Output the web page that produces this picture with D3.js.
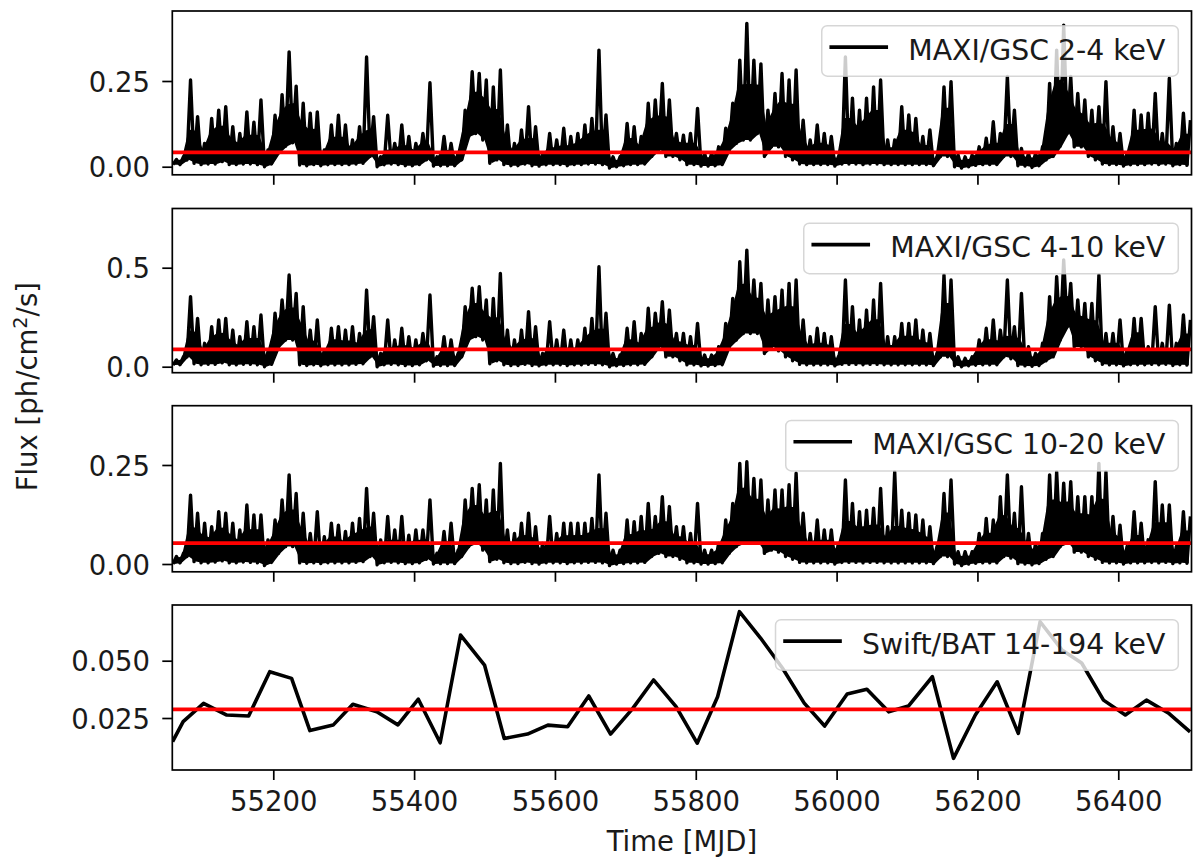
<!DOCTYPE html>
<html><head><meta charset="utf-8">
<script src="https://cdn.jsdelivr.net/npm/d3@7"></script>
<style>
html,body{margin:0;padding:0;background:#fff;}
svg{display:block;font-family:"DejaVu Sans",sans-serif;}
</style></head><body>
<svg id="chart" width="1193" height="860"></svg>
<script>
// ---- DATA ----
// MAXI/GSC light curves: 10-day bins, upper (hi) and lower (lo) envelope of the daily points
const maxiDays = [
55060,55070,55080,55090,55100,55110,55120,55130,55140,55150,
55160,55170,55180,55190,55200,55210,55220,55230,55240,55250,
55260,55270,55280,55290,55300,55310,55320,55330,55340,55350,
55360,55370,55380,55390,55400,55410,55420,55430,55440,55450,
55460,55470,55480,55490,55500,55510,55520,55530,55540,55550,
55560,55570,55580,55590,55600,55610,55620,55630,55640,55650,
55660,55670,55680,55690,55700,55710,55720,55730,55740,55750,
55760,55770,55780,55790,55800,55810,55820,55830,55840,55850,
55860,55870,55880,55890,55900,55910,55920,55930,55940,55950,
55960,55970,55980,55990,56000,56010,56020,56030,56040,56050,
56060,56070,56080,56090,56100,56110,56120,56130,56140,56150,
56160,56170,56180,56190,56200,56210,56220,56230,56240,56250,
56260,56270,56280,56290,56300,56310,56320,56330,56340,56350,
56360,56370,56380,56390,56400,56410,56420,56430,56440,56450,
56460,56470,56480,56490,56500];

const maxi2to4Hi = [
0.021,0.029,0.253,0.146,0.068,0.141,0.165,0.175,0.117,0.097,
0.160,0.130,0.195,0.049,0.150,0.210,0.335,0.235,0.185,0.156,
0.160,0.049,0.122,0.150,0.122,0.078,0.117,0.320,0.146,0.029,
0.150,0.068,0.122,0.088,0.068,0.097,0.245,0.029,0.088,0.068,
0.039,0.165,0.277,0.272,0.253,0.233,0.282,0.122,0.068,0.107,
0.175,0.117,0.039,0.097,0.078,0.112,0.088,0.097,0.122,0.141,
0.340,0.151,0.029,0.029,0.126,0.117,0.088,0.185,0.195,0.243,
0.195,0.097,0.092,0.097,0.170,0.039,0.039,0.058,0.112,0.185,
0.311,0.418,0.311,0.300,0.165,0.214,0.272,0.253,0.282,0.136,
0.078,0.122,0.097,0.088,0.029,0.320,0.200,0.165,0.200,0.233,
0.253,0.078,0.078,0.175,0.151,0.141,0.088,0.107,0.029,0.233,
0.248,0.034,0.029,0.034,0.058,0.083,0.131,0.097,0.263,0.165,
0.053,0.039,0.039,0.058,0.243,0.340,0.413,0.263,0.214,0.195,
0.165,0.175,0.248,0.117,0.097,0.039,0.165,0.151,0.156,0.214,
0.097,0.258,0.068,0.156,0.136];
const maxi2to4Lo = [
0.006,0.006,0.020,0.010,0.006,0.008,0.008,0.015,0.006,0.006,
0.008,0.008,0.006,0.000,0.008,0.040,0.060,0.070,0.005,0.003,
0.006,0.003,0.006,0.006,0.006,0.006,0.008,0.010,0.030,0.000,
0.006,0.008,0.006,0.003,0.003,0.006,0.020,0.002,0.003,0.003,
0.003,0.020,0.088,0.097,0.078,0.010,0.020,0.006,0.003,0.003,
0.008,0.003,0.002,0.006,0.006,0.006,0.003,0.006,0.006,0.008,
0.008,0.006,-0.004,0.000,0.003,0.006,0.006,0.008,0.030,0.049,
0.030,0.030,0.020,0.006,0.006,0.002,0.002,0.003,0.006,0.049,
0.068,0.078,0.078,0.097,0.030,0.058,0.058,0.030,0.020,0.008,
0.006,0.006,0.006,0.006,0.002,0.008,0.008,0.008,0.006,0.008,
0.008,0.006,0.006,0.006,0.006,0.006,0.006,0.006,0.003,0.030,
0.030,0.000,-0.004,0.000,0.004,0.006,0.006,0.006,0.030,0.030,
0.003,0.002,-0.002,0.003,0.020,0.030,0.060,0.097,0.058,0.058,
0.030,0.020,0.008,0.006,0.006,0.002,0.006,0.006,0.006,0.008,
0.006,0.008,0.003,0.006,0.004];

const maxi4to10Hi = [
0.034,0.050,0.354,0.244,0.118,0.202,0.236,0.244,0.185,0.152,
0.227,0.202,0.261,0.076,0.270,0.337,0.463,0.370,0.303,0.185,
0.236,0.084,0.194,0.202,0.185,0.202,0.168,0.387,0.253,0.067,
0.236,0.135,0.194,0.152,0.135,0.168,0.362,0.050,0.152,0.135,
0.067,0.303,0.396,0.404,0.337,0.345,0.471,0.185,0.135,0.185,
0.278,0.202,0.067,0.227,0.135,0.185,0.135,0.135,0.194,0.244,
0.505,0.270,0.067,0.059,0.194,0.227,0.168,0.295,0.270,0.328,
0.286,0.168,0.168,0.152,0.219,0.059,0.059,0.101,0.219,0.345,
0.530,0.589,0.438,0.421,0.337,0.354,0.387,0.421,0.438,0.236,
0.152,0.194,0.168,0.152,0.050,0.438,0.303,0.236,0.286,0.337,
0.421,0.152,0.152,0.219,0.219,0.236,0.185,0.168,0.067,0.463,
0.438,0.050,0.042,0.050,0.135,0.194,0.236,0.185,0.438,0.202,
0.370,0.101,0.067,0.118,0.354,0.455,0.539,0.421,0.337,0.320,
0.320,0.463,0.168,0.168,0.236,0.084,0.244,0.244,0.101,0.303,
0.118,0.311,0.118,0.261,0.236];
const maxi4to10Lo = [
0.008,0.010,0.050,0.015,0.010,0.012,0.012,0.020,0.010,0.010,
0.012,0.012,0.010,0.000,0.012,0.100,0.135,0.135,0.010,0.006,
0.010,0.005,0.010,0.010,0.010,0.010,0.012,0.015,0.050,0.000,
0.010,0.012,0.010,0.006,0.006,0.010,0.030,0.003,0.006,0.006,
0.006,0.050,0.135,0.152,0.135,0.015,0.030,0.010,0.006,0.006,
0.012,0.006,0.004,0.010,0.010,0.010,0.006,0.010,0.010,0.012,
0.012,0.010,0.000,0.005,0.006,0.010,0.010,0.012,0.050,0.100,
0.050,0.050,0.030,0.010,0.010,0.004,0.004,0.006,0.010,0.100,
0.135,0.168,0.168,0.168,0.067,0.100,0.080,0.050,0.030,0.012,
0.010,0.010,0.010,0.010,0.004,0.012,0.012,0.012,0.010,0.012,
0.012,0.010,0.010,0.010,0.010,0.010,0.010,0.010,0.006,0.050,
0.050,0.005,0.000,0.005,0.008,0.010,0.010,0.010,0.050,0.040,
0.006,0.004,0.002,0.006,0.030,0.050,0.135,0.202,0.100,0.100,
0.050,0.030,0.012,0.010,0.010,0.004,0.010,0.010,0.010,0.012,
0.010,0.012,0.006,0.010,0.008];

const maxi10to20Hi = [
0.019,0.027,0.174,0.128,0.103,0.094,0.132,0.128,0.103,0.086,
0.149,0.124,0.124,0.061,0.111,0.162,0.225,0.178,0.128,0.077,
0.132,0.069,0.103,0.098,0.082,0.103,0.115,0.191,0.128,0.061,
0.120,0.086,0.120,0.073,0.086,0.086,0.162,0.027,0.082,0.103,
0.035,0.162,0.191,0.200,0.162,0.187,0.254,0.086,0.077,0.103,
0.128,0.094,0.052,0.120,0.077,0.103,0.103,0.103,0.103,0.115,
0.225,0.128,0.035,0.035,0.111,0.107,0.120,0.153,0.120,0.170,
0.145,0.094,0.094,0.077,0.153,0.035,0.035,0.052,0.111,0.153,
0.254,0.258,0.216,0.212,0.162,0.187,0.187,0.200,0.229,0.128,
0.077,0.111,0.086,0.086,0.052,0.212,0.153,0.132,0.136,0.141,
0.191,0.094,0.233,0.136,0.128,0.124,0.111,0.094,0.044,0.178,
0.212,0.031,0.031,0.031,0.077,0.115,0.111,0.170,0.225,0.128,
0.195,0.077,0.052,0.077,0.225,0.233,0.204,0.208,0.170,0.170,
0.170,0.254,0.233,0.120,0.098,0.044,0.132,0.103,0.061,0.208,
0.149,0.149,0.044,0.132,0.120];
const maxi10to20Lo = [
0.000,0.003,0.019,0.006,0.003,0.003,0.005,0.008,0.003,0.003,
0.005,0.004,0.003,-0.004,0.004,0.027,0.044,0.044,0.003,0.002,
0.003,0.001,0.003,0.003,0.003,0.003,0.004,0.006,0.019,-0.002,
0.003,0.004,0.003,0.001,0.001,0.003,0.012,0.000,0.001,0.001,
0.001,0.019,0.044,0.052,0.035,0.006,0.012,0.003,0.001,0.001,
0.004,0.001,0.000,0.003,0.003,0.003,0.001,0.003,0.003,0.004,
0.004,0.003,-0.004,0.000,0.001,0.003,0.003,0.004,0.019,0.027,
0.019,0.019,0.012,0.003,0.003,0.000,0.000,0.001,0.003,0.027,
0.044,0.052,0.052,0.052,0.027,0.035,0.030,0.019,0.012,0.004,
0.003,0.003,0.003,0.003,0.000,0.004,0.004,0.004,0.003,0.004,
0.004,0.003,0.003,0.003,0.003,0.003,0.003,0.003,0.001,0.019,
0.019,0.000,-0.004,0.000,0.002,0.003,0.003,0.003,0.019,0.015,
0.001,0.000,-0.002,0.001,0.012,0.019,0.044,0.052,0.030,0.030,
0.019,0.012,0.004,0.003,0.003,0.000,0.003,0.003,0.003,0.004,
0.003,0.004,0.001,0.003,0.002];

// Swift/BAT monthly light curve
const batDays = [55057,55072,55101,55134,55165,55195,55226,55252,55285,55313,
55347,55377,55406,55437,55466,55500,55528,55561,55590,55618,
55648,55679,55710,55740,55772,55802,55831,55862,55892,55923,
55954,55983,56015,56043,56074,56102,56136,56166,56197,56228,
56258,56289,56320,56348,56379,56410,56440,56471,56502];
const batFlux = [0.0147,0.0234,0.0314,0.0263,0.0259,0.0452,0.0423,0.0195,0.0219,0.0310,
0.0277,0.0220,0.0332,0.0142,0.0612,0.0481,0.0161,0.0180,0.0219,0.0212,
0.0346,0.0180,0.0290,0.0416,0.0300,0.0140,0.0343,0.0714,0.0599,0.0468,
0.0315,0.0215,0.0355,0.0375,0.0277,0.0302,0.0430,0.0074,0.0263,0.0408,
0.0183,0.0670,0.0547,0.0490,0.0328,0.0263,0.0328,0.0272,0.0190];

// mean levels (red lines)
const meanLevels = [0.042, 0.088, 0.0525, 0.0288];
// labels and ticks
const legendLabels = ["MAXI/GSC 2-4 keV", "MAXI/GSC 4-10 keV", "MAXI/GSC 10-20 keV", "Swift/BAT 14-194 keV"];
const xTickValues = [55200, 55400, 55600, 55800, 56000, 56200, 56400];
const yTickValues = [[0, 0.25], [0, 0.5], [0, 0.25], [0.025, 0.05]];
const yTickFormats = [".2f", ".1f", ".2f", ".3f"];
const yDomains = [[-0.0236, 0.4542], [-0.0303, 0.799], [-0.0197, 0.3997], [0.00232, 0.0743]];
const xDomain = [55056.6, 56504];
const xLabel = "Time [MJD]";

// ---- LAYOUT ----
const FS = 27.5;
const LFS = 28.3;
const TXT = "#1a1a1a";
const left = 172.3, right = 1191.5;
const tops = [11, 208.5, 405.7, 605];
const bottoms = [174.8, 372.7, 571.8, 770];
const svg = d3.select("#chart");
const x = d3.scaleLinear().domain(xDomain).range([left, right]);

const series = [
  {hi: maxi2to4Hi, lo: maxi2to4Lo},
  {hi: maxi4to10Hi, lo: maxi4to10Lo},
  {hi: maxi10to20Hi, lo: maxi10to20Lo},
  null
];

const defs = svg.append("defs");

for (let i = 0; i < 4; i++) {
  const top = tops[i], bot = bottoms[i];
  const y = d3.scaleLinear().domain(yDomains[i]).range([bot, top]);
  const g = svg.append("g");
  defs.append("clipPath").attr("id", "clip" + i)
    .append("rect").attr("x", left).attr("y", top).attr("width", right - left).attr("height", bot - top);
  const dg = g.append("g").attr("clip-path", `url(#clip${i})`);

  if (series[i]) {
    const s = series[i];
    const n = maxiDays.length;
    // dense body of the daily scatter: filled between the lower envelope and the
    // part of the upper envelope shared with neighbouring bins (isolated spikes stay thin)
    const body = maxiDays.map((d, k) => {
      const nb = Math.max(s.hi[Math.max(0, k - 1)], s.hi[Math.min(n - 1, k + 1)]);
      const t = Math.min(s.hi[k], nb);
      return [d, s.lo[k], s.lo[k] + 0.7 * (t - s.lo[k])];
    });
    dg.append("path").datum(body)
      .attr("d", d3.area().x(d => x(d[0])).y0(d => y(d[1])).y1(d => y(d[2])))
      .attr("fill", "#000");
    const pts = [];
    maxiDays.forEach((d, k) => { pts.push([d - 2.5, s.lo[k]]); pts.push([d + 2.5, s.hi[k]]); });
    dg.append("path").datum(pts)
      .attr("d", d3.line().x(d => x(d[0])).y(d => y(d[1])))
      .attr("fill", "none").attr("stroke", "#000").attr("stroke-width", 3.4)
      .attr("stroke-linejoin", "round");
  } else {
    const pts = batDays.map((d, k) => [d, batFlux[k]]);
    dg.append("path").datum(pts)
      .attr("d", d3.line().x(d => x(d[0])).y(d => y(d[1])))
      .attr("fill", "none").attr("stroke", "#000").attr("stroke-width", 3.6)
      .attr("stroke-linejoin", "round");
  }
  // mean level
  dg.append("line")
    .attr("x1", left).attr("x2", right)
    .attr("y1", y(meanLevels[i])).attr("y2", y(meanLevels[i]))
    .attr("stroke", "#ff0000").attr("stroke-width", 3.8);

  // y axis
  const ya = g.append("g").attr("transform", `translate(${left},0)`)
    .call(d3.axisLeft(y).tickValues(yTickValues[i]).tickFormat(d3.format(yTickFormats[i]))
      .tickSize(10).tickPadding(12.3));
  ya.select(".domain").remove();
  ya.selectAll(".tick line").attr("stroke", "#000").attr("stroke-width", 1.7);
  ya.selectAll(".tick text").attr("font-size", FS).attr("font-family", "DejaVu Sans")
    .attr("fill", TXT).attr("dy", "0.365em");

  // x axis
  const xa = g.append("g").attr("transform", `translate(0,${bot})`)
    .call(d3.axisBottom(x).tickValues(xTickValues)
      .tickFormat(i === 3 ? d3.format("d") : () => "")
      .tickSize(10).tickPadding(11.5));
  xa.select(".domain").remove();
  xa.selectAll(".tick line").attr("stroke", "#000").attr("stroke-width", 1.7);
  xa.selectAll(".tick text").attr("font-size", FS).attr("font-family", "DejaVu Sans")
    .attr("fill", TXT).attr("dy", "0.71em");

  // frame
  g.append("rect").attr("x", left).attr("y", top).attr("width", right - left).attr("height", bot - top)
    .attr("fill", "none").attr("stroke", "#000").attr("stroke-width", 1.7);

  // legend
  const lg = g.append("g");
  const boxTop = top + 14.7, boxH = 50.5, boxRight = right - 13.2;
  const box = lg.append("rect");
  const txt = lg.append("text").text(legendLabels[i])
    .attr("font-size", LFS).attr("font-family", "DejaVu Sans").attr("fill", TXT);
  const tw = txt.node().getComputedTextLength();
  const tx = boxRight - 13 - tw;
  txt.attr("x", tx).attr("y", boxTop + 33.8);
  const hEnd = tx - 22, hStart = hEnd - 55;
  const boxLeft = hStart - 9.5;
  box.attr("x", boxLeft).attr("y", boxTop).attr("width", boxRight - boxLeft).attr("height", boxH)
    .attr("rx", 5.5).attr("ry", 5.5)
    .attr("fill", "#fff").attr("fill-opacity", 0.8)
    .attr("stroke", "#cccccc").attr("stroke-opacity", 0.8).attr("stroke-width", 1.5);
  lg.append("line").attr("x1", hStart).attr("x2", hEnd)
    .attr("y1", boxTop + 21.4).attr("y2", boxTop + 21.4)
    .attr("stroke", "#000").attr("stroke-width", 3.6).attr("stroke-linecap", "square");
}

// axis labels
svg.append("text").attr("x", (left + right) / 2).attr("y", 850.5)
  .attr("text-anchor", "middle").attr("font-size", FS).attr("fill", TXT).text(xLabel);

const yl = svg.append("text")
  .attr("transform", "translate(36.7,386.7) rotate(-90)")
  .attr("text-anchor", "middle").attr("font-size", FS).attr("fill", TXT);
yl.append("tspan").text("Flux [ph/cm");
yl.append("tspan").attr("dy", -10).attr("font-size", FS * 0.7).text("2");
yl.append("tspan").attr("dy", 10).text("/s]");
</script>
</body></html>
